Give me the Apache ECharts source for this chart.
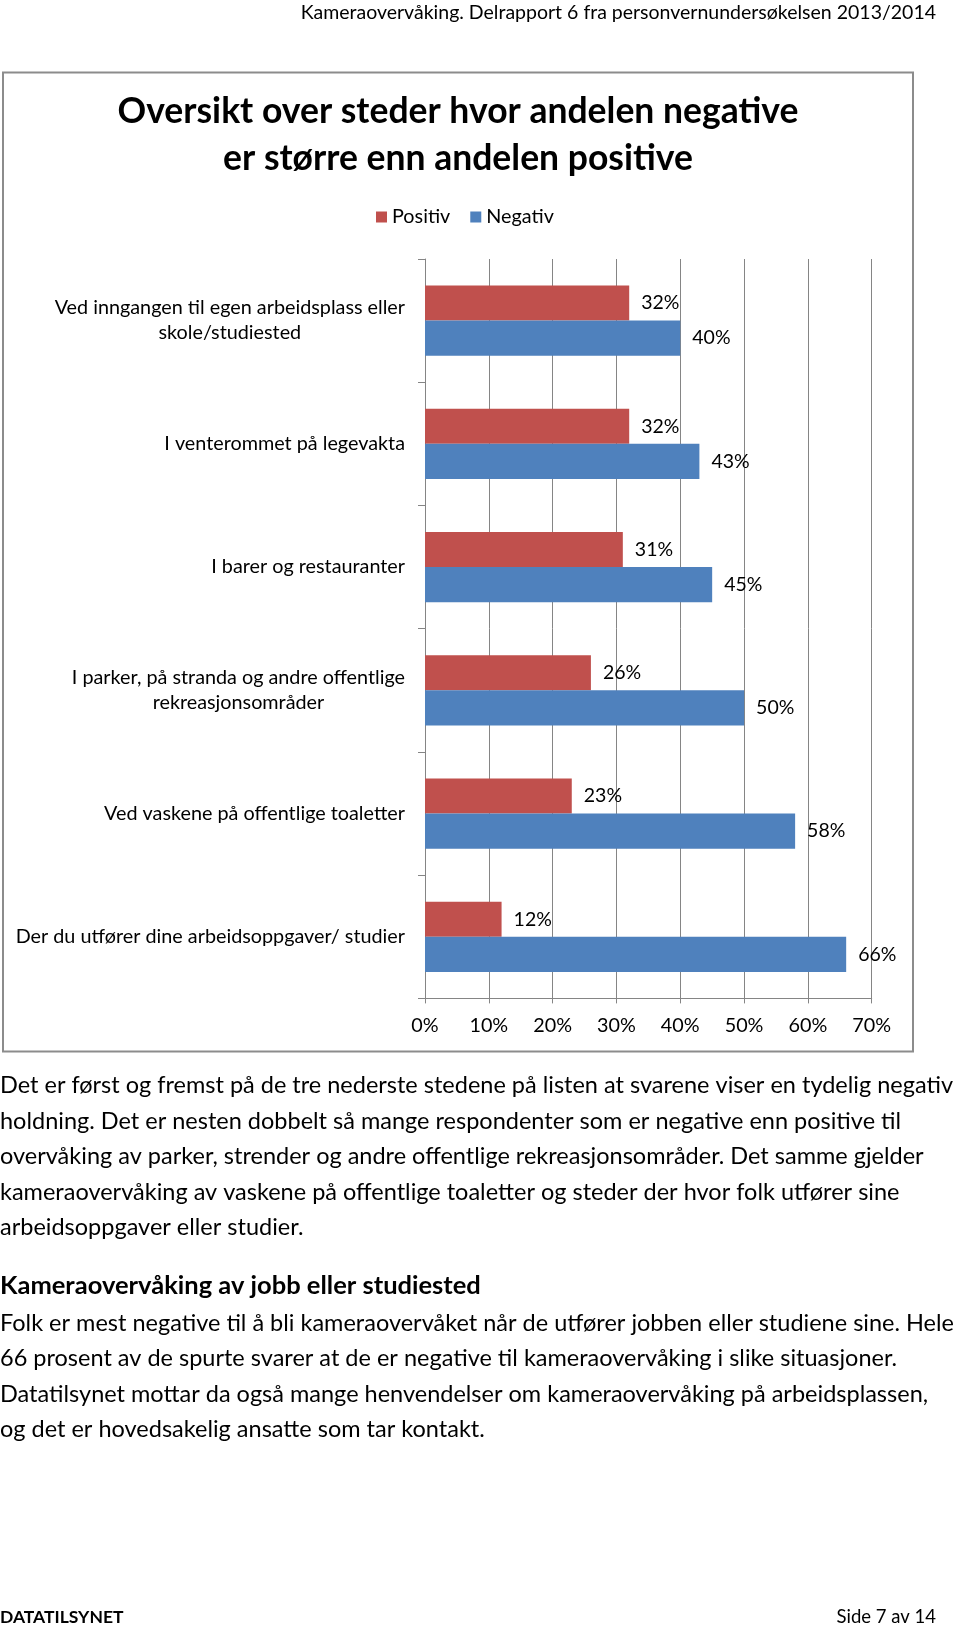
<!DOCTYPE html>
<html>
<head>
<meta charset="utf-8">
<script src="https://cdn.jsdelivr.net/npm/echarts@6/dist/echarts.min.js"></script>
<style>
html,body{margin:0;padding:0;background:#fff;}
#chart{width:960px;height:1627px;}
</style>
</head>
<body>
<div id="chart"></div>
<script>
// ---- data ----
const categories = [
  'Ved inngangen til egen arbeidsplass eller\nskole/studiested',
  'I venterommet på legevakta',
  'I barer og restauranter',
  'I parker, på stranda og andre offentlige\nrekreasjonsområder',
  'Ved vaskene på offentlige toaletter',
  'Der du utfører dine arbeidsoppgaver/ studier'
];
const seriesNames = ['Positiv', 'Negativ'];
const positiv = [32, 32, 31, 26, 23, 12];
const negativ = [40, 43, 45, 50, 58, 66];
const xMin = 0, xMax = 70, xStep = 10;

// ---- page text ----
const headerText = 'Kameraovervåking. Delrapport 6 fra personvernundersøkelsen 2013/2014';
const titleLines = ['Oversikt over steder hvor andelen negative', 'er større enn andelen positive'];
const para1 = [
  'Det er først og fremst på de tre nederste stedene på listen at svarene viser en tydelig negativ',
  'holdning. Det er nesten dobbelt så mange respondenter som er negative enn positive til',
  'overvåking av parker, strender og andre offentlige rekreasjonsområder. Det samme gjelder',
  'kameraovervåking av vaskene på offentlige toaletter og steder der hvor folk utfører sine',
  'arbeidsoppgaver eller studier.'
];
const heading2 = 'Kameraovervåking av jobb eller studiested';
const para2 = [
  'Folk er mest negative til å bli kameraovervåket når de utfører jobben eller studiene sine. Hele',
  '66 prosent av de spurte svarer at de er negative til kameraovervåking i slike situasjoner.',
  'Datatilsynet mottar da også mange henvendelser om kameraovervåking på arbeidsplassen,',
  'og det er hovedsakelig ansatte som tar kontakt.'
];
const footerLeft = 'DATATILSYNET';
const footerRight = 'Side 7 av 14';

const FONT = 'Lato';
const LBL = 19.8;
const BODY = 23.5;
const GRAY = '#858585';

const graphics = [];
function txt(text, x, y, size, align, bold) {
  graphics.push({
    type: 'text', x: x, y: y, silent: true,
    style: {
      text: text, fill: '#000',
      font: (bold ? 'bold ' : '') + size + 'px ' + FONT,
      textAlign: align, textVerticalAlign: 'middle'
    }
  });
}
// chart frame
graphics.push({
  type: 'rect', silent: true, z: -1,
  shape: { x: 3, y: 72.5, width: 910, height: 979 },
  style: { fill: 'none', stroke: '#8c8c8c', lineWidth: 2 }
});
txt(headerText, 936, 13, 19.5, 'right', false);
txt(titleLines[0], 458, 112, 35.5, 'center', true);
txt(titleLines[1], 458, 159, 35.5, 'center', true);
para1.forEach((l, i) => txt(l, 0, 1085.5 + i * 35.5, BODY, 'left', false));
txt(heading2, 0, 1286, 25.5, 'left', true);
para2.forEach((l, i) => txt(l, 0, 1323 + i * 35.6, BODY, 'left', false));
txt(footerLeft, 0, 1617, 17.5, 'left', true);
txt(footerRight, 936, 1617, 18.5, 'right', false);

const chart = echarts.init(document.getElementById('chart'), null, { renderer: 'canvas' });
chart.setOption({
  animation: false,
  backgroundColor: '#fff',
  textStyle: { fontFamily: FONT },
  color: ['#C0504D', '#4F81BD'],
  legend: {
    data: seriesNames,
    left: 371, top: 202,
    icon: 'rect', itemWidth: 11, itemHeight: 11, itemGap: 20,
    textStyle: { fontSize: LBL, color: '#000', fontFamily: FONT }
  },
  grid: { left: 425, right: 88.3, top: 259, bottom: 628.6, containLabel: false },
  xAxis: {
    type: 'value', min: xMin, max: xMax, interval: xStep,
    axisLine: { show: true, lineStyle: { color: GRAY, width: 1 } },
    axisTick: { show: true, length: 5, lineStyle: { color: GRAY } },
    splitLine: { show: true, lineStyle: { color: GRAY, width: 1 } },
    axisLabel: { formatter: '{value}%', fontSize: LBL, color: '#000', margin: 17, fontFamily: FONT }
  },
  yAxis: {
    type: 'category', inverse: true, data: categories,
    axisLine: { show: true, lineStyle: { color: GRAY, width: 1 } },
    axisTick: { show: true, length: 7, lineStyle: { color: GRAY } },
    splitLine: { show: false },
    axisLabel: {
      margin: 20,
      formatter: v => v.split('\n').map(s => '{c|' + s + '}').join('\n'),
      rich: { c: { align: 'center', fontSize: LBL, lineHeight: 25, color: '#000', fontFamily: FONT } }
    }
  },
  series: [
    {
      name: seriesNames[0], type: 'bar', data: positiv,
      barGap: '0%', barCategoryGap: '43%',
      label: { show: true, position: 'right', distance: 12, formatter: '{c}%', fontSize: 19.5, color: '#000', fontFamily: FONT }
    },
    {
      name: seriesNames[1], type: 'bar', data: negativ,
      barGap: '0%', barCategoryGap: '43%',
      label: { show: true, position: 'right', distance: 12, formatter: '{c}%', fontSize: 19.5, color: '#000', fontFamily: FONT }
    }
  ],
  graphic: graphics
});
</script>
</body>
</html>
